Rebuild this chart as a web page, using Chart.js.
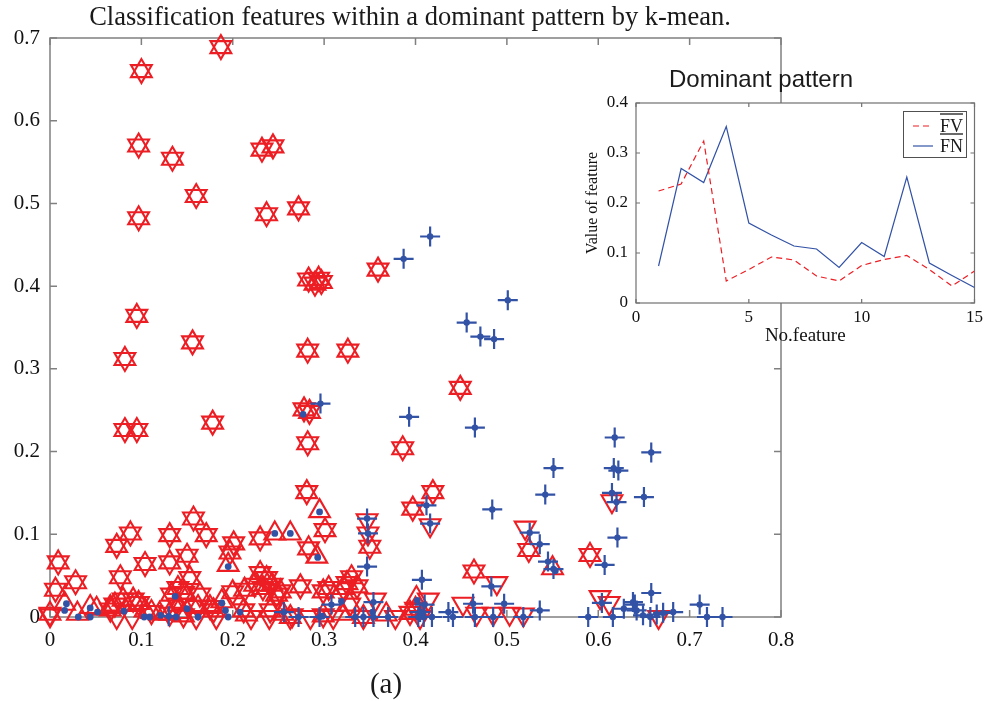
<!DOCTYPE html>
<html><head><meta charset="utf-8">
<script src="https://cdn.jsdelivr.net/npm/chart.js@4.4.1/dist/chart.umd.min.js"></script>
<style>
html,body{margin:0;padding:0;background:#fff;}
#wrap{position:relative;width:987px;height:701px;overflow:hidden;}
#main{position:absolute;left:0;top:0;}
#inset{position:absolute;left:560px;top:55px;}
</style></head><body>
<div id="wrap"><canvas id="main" width="987" height="701"></canvas><canvas id="inset" width="427" height="300"></canvas></div>
<script>
// ---------- Main scatter data (x, y) ----------
const starPoints = [ // red up + down triangle at same place
  [0.100,0.660],[0.187,0.689],[0.097,0.570],[0.134,0.554],[0.160,0.509],[0.097,0.482],[0.232,0.565],[0.244,0.569],
  [0.237,0.487],[0.272,0.494],[0.283,0.408],[0.290,0.403],[0.294,0.409],[0.297,0.405],[0.359,0.420],[0.095,0.364],
  [0.156,0.332],[0.082,0.312],[0.282,0.322],[0.326,0.322],[0.082,0.226],[0.095,0.226],[0.178,0.235],[0.278,0.251],
  [0.284,0.248],[0.282,0.210],[0.281,0.151],[0.449,0.277],[0.386,0.204],[0.419,0.151],[0.397,0.131],
  [0.301,0.105],[0.350,0.085],[0.283,0.083],[0.230,0.095],[0.201,0.089],[0.197,0.078],[0.171,0.099],[0.157,0.119],
  [0.131,0.099],[0.150,0.074],[0.131,0.066],[0.104,0.064],[0.088,0.101],[0.073,0.086],[0.009,0.066],[0.464,0.055],
  [0.524,0.081],[0.591,0.075],
  [0.006,0.033],[0.028,0.042],[0.000,0.004],[0.077,0.048],[0.080,0.021],[0.071,0.015],[0.091,0.021],[0.066,0.009],
  [0.097,0.017],[0.111,0.006],[0.153,0.047],[0.140,0.035],[0.133,0.027],[0.146,0.029],[0.164,0.027],[0.140,0.015],
  [0.131,0.004],[0.146,0.002],[0.162,0.012],[0.175,0.012],[0.179,0.008],[0.213,0.033],[0.224,0.039],[0.230,0.053],
  [0.237,0.047],[0.233,0.035],[0.243,0.039],[0.252,0.031],[0.248,0.027],[0.274,0.037],[0.212,0.008],[0.241,0.008],
  [0.263,0.000],[0.299,0.031],[0.305,0.035],[0.325,0.041],[0.330,0.048],[0.336,0.037],[0.321,0.035],[0.328,0.015],
  [0.299,0.002],[0.343,0.000],[0.394,0.005],[0.400,0.010],[0.200,0.030]
];
const upPoints = [ // red up triangle only
  [0.016,0.016],[0.044,0.012],[0.051,0.010],[0.066,0.012],[0.104,0.008],[0.188,0.019],[0.195,0.063],[0.246,0.101],
  [0.263,0.101],[0.295,0.128],[0.292,0.073],[0.401,0.023],[0.550,0.059],[0.368,0.003],[0.215,0.003],[0.255,0.004],
  [0.140,0.006],[0.030,0.004],[0.120,0.004],[0.320,0.004]
];
const downPoints = [ // red down triangle only
  [0.000,0.002],[0.073,0.000],[0.090,0.000],[0.182,0.000],[0.220,0.000],[0.265,0.002],[0.310,0.000],[0.347,0.117],
  [0.348,0.101],[0.356,0.021],[0.416,0.111],[0.414,0.021],[0.452,0.016],[0.467,0.004],[0.485,0.004],[0.503,0.004],
  [0.518,0.003],[0.489,0.041],[0.520,0.108],[0.602,0.024],[0.612,0.017],[0.615,0.140],[0.666,0.000],[0.378,0.000],
  [0.405,0.000],[0.160,0.000],[0.240,0.000],[0.285,0.000]
];
const plusPoints = [ // blue plus with centre dot
  [0.416,0.460],[0.387,0.433],[0.501,0.383],[0.456,0.356],[0.471,0.339],[0.486,0.336],[0.296,0.258],[0.393,0.242],
  [0.465,0.229],[0.618,0.217],[0.658,0.199],[0.551,0.180],[0.617,0.180],[0.622,0.177],[0.542,0.148],[0.615,0.150],
  [0.650,0.145],[0.620,0.139],[0.412,0.135],[0.484,0.130],[0.621,0.096],[0.347,0.119],[0.348,0.101],[0.525,0.102],
  [0.536,0.088],[0.545,0.067],[0.551,0.058],[0.607,0.063],[0.347,0.061],[0.407,0.045],[0.483,0.037],[0.658,0.029],
  [0.416,0.113],
  [0.130,0.001],[0.256,0.006],[0.272,0.000],[0.295,0.000],[0.308,0.015],[0.334,0.000],[0.343,0.000],[0.354,0.018],
  [0.354,0.000],[0.370,0.000],[0.403,0.000],[0.409,0.000],[0.405,0.006],[0.410,0.015],[0.418,0.000],[0.436,0.006],
  [0.441,0.000],[0.463,0.016],[0.465,0.000],[0.497,0.016],[0.518,0.000],[0.536,0.008],[0.589,0.000],[0.604,0.017],
  [0.616,0.000],[0.628,0.010],[0.638,0.018],[0.640,0.015],[0.642,0.008],[0.649,0.002],[0.657,0.000],[0.664,0.003],
  [0.671,0.005],[0.682,0.006],[0.711,0.015],[0.719,0.000],[0.736,0.000],[0.485,0.000]
];
const dotPoints = [ // blue dot only
  [0.018,0.016],[0.016,0.008],[0.031,0.000],[0.044,0.011],[0.044,0.000],[0.052,0.006],[0.081,0.007],[0.103,0.000],
  [0.109,0.000],[0.121,0.002],[0.137,0.025],[0.138,0.000],[0.150,0.010],[0.162,0.000],[0.188,0.017],[0.192,0.008],
  [0.195,0.000],[0.208,0.006],[0.195,0.061],[0.246,0.101],[0.263,0.101],[0.277,0.245],[0.295,0.127],[0.293,0.072],
  [0.319,0.019],[0.298,0.001],[0.353,0.006],[0.402,0.020],[0.553,0.056]
];
const mainXTicks = [0,0.1,0.2,0.3,0.4,0.5,0.6,0.7,0.8];
const mainYTicks = [0,0.1,0.2,0.3,0.4,0.5,0.6,0.7];

// ---------- Inset data ----------
const featureNo = [1,2,3,4,5,6,7,8,9,10,11,12,13,14,15];
const fvValues = [0.224,0.238,0.324,0.044,0.067,0.092,0.086,0.054,0.044,0.075,0.087,0.095,0.067,0.034,0.064];
const fnValues = [0.074,0.269,0.241,0.353,0.160,0.136,0.114,0.108,0.071,0.121,0.093,0.252,0.080,0.055,0.031];
const insetXTicks = [0,5,10,15];
const insetYTicks = [0,0.1,0.2,0.3,0.4];

const mainTitle = 'Classification features within a dominant pattern by k-mean.';
const subLabel = '(a)';
const insetTitle = 'Dominant pattern';
const legendNames = ['FV','FN'];

// ---------- styles ----------
const RED = 'rgb(236,30,36)';
const BLUE = 'rgb(50,82,166)';
const SERIF = '"Liberation Serif","Times New Roman",serif';
const SANS = '"Liberation Sans",Arial,sans-serif';
const toXY = a => a.map(p => ({x: p[0], y: p[1]}));

function boxTicks(chart, color, width, tickLen, xt, yt) {
  const {ctx, chartArea: a, scales: {x, y}} = chart;
  ctx.save();
  ctx.strokeStyle = color; ctx.lineWidth = width;
  ctx.strokeRect(a.left, a.top, a.right - a.left, a.bottom - a.top);
  ctx.beginPath();
  xt.forEach(v => { const p = x.getPixelForValue(v);
    ctx.moveTo(p, a.bottom); ctx.lineTo(p, a.bottom - tickLen);
    ctx.moveTo(p, a.top); ctx.lineTo(p, a.top + tickLen); });
  yt.forEach(v => { const p = y.getPixelForValue(v);
    ctx.moveTo(a.left, p); ctx.lineTo(a.left + tickLen, p);
    ctx.moveTo(a.right, p); ctx.lineTo(a.right - tickLen, p); });
  ctx.stroke();
  ctx.restore();
}

const mainPlugin = {
  id: 'mainDeco',
  beforeDatasetsDraw(chart) { boxTicks(chart, '#808080', 1.5, 7, mainXTicks, mainYTicks); },
  afterDraw(chart) {
    const ctx = chart.ctx;
    ctx.save();
    ctx.fillStyle = '#1a1a1a';
    ctx.textAlign = 'center'; ctx.textBaseline = 'middle';
    ctx.font = '26.5px ' + SERIF;
    ctx.fillText(mainTitle, 410, 18);
    ctx.font = '29px ' + SERIF;
    ctx.fillText(subLabel, 386, 685);
    ctx.restore();
  }
};

const tickFont = {family: SERIF, size: 21};
const redBase = {pointBackgroundColor: 'rgba(0,0,0,0)', pointBorderColor: RED, pointBorderWidth: 2.1, pointRadius: 12, pointHoverRadius: 12, clip: false, order: 1};

new Chart(document.getElementById('main'), {
  type: 'scatter',
  data: {
    datasets: [
      {label: 'plus', data: toXY(plusPoints), pointStyle: 'cross', pointRadius: 10, pointHoverRadius: 10, pointBorderColor: BLUE, pointBorderWidth: 2.2, clip: false, order: 0},
      {label: 'plusDot', data: toXY(plusPoints), pointStyle: 'circle', pointRadius: 3.2, pointHoverRadius: 3.2, pointBackgroundColor: BLUE, pointBorderWidth: 0, clip: false, order: 0},
      {label: 'dot', data: toXY(dotPoints), pointStyle: 'circle', pointRadius: 3.4, pointHoverRadius: 3.4, pointBackgroundColor: BLUE, pointBorderWidth: 0, clip: false, order: 0},
      Object.assign({label: 'starUp', data: toXY(starPoints), pointStyle: 'triangle', pointRotation: 0}, redBase),
      Object.assign({label: 'starDown', data: toXY(starPoints), pointStyle: 'triangle', pointRotation: 180}, redBase),
      Object.assign({label: 'up', data: toXY(upPoints), pointStyle: 'triangle', pointRotation: 0}, redBase),
      Object.assign({label: 'down', data: toXY(downPoints), pointStyle: 'triangle', pointRotation: 180}, redBase)
    ]
  },
  options: {
    responsive: false, animation: false, devicePixelRatio: 1,
    layout: {padding: {top: 38, right: 206, bottom: 44, left: 0}},
    plugins: {legend: {display: false}, tooltip: {enabled: false}, title: {display: false}},
    events: [],
    scales: {
      x: {type: 'linear', min: 0, max: 0.8,
          afterBuildTicks: s => { s.ticks = mainXTicks.map(v => ({value: v})); },
          ticks: {font: tickFont, color: '#111', padding: 11, maxRotation: 0},
          grid: {display: false, drawTicks: false}, border: {display: false},
          afterFit: s => { s.height = 40; }},
      y: {type: 'linear', min: 0, max: 0.7,
          afterBuildTicks: s => { s.ticks = mainYTicks.map(v => ({value: v})); },
          ticks: {font: tickFont, color: '#111', padding: 10},
          grid: {display: false, drawTicks: false}, border: {display: false},
          afterFit: s => { s.width = 50; }}
    }
  },
  plugins: [mainPlugin]
});

// ---------- Inset ----------
const insetPlugin = {
  id: 'insetDeco',
  beforeDraw(chart) {
    const {ctx, chartArea: a} = chart;
    ctx.save(); ctx.fillStyle = '#fff';
    ctx.fillRect(a.left, a.top, a.right - a.left, a.bottom - a.top);
    ctx.restore();
  },
  beforeDatasetsDraw(chart) { boxTicks(chart, '#707070', 1.2, 4, insetXTicks, insetYTicks); },
  afterDraw(chart) {
    const ctx = chart.ctx;
    ctx.save();
    ctx.fillStyle = '#1a1a1a'; ctx.textAlign = 'center'; ctx.textBaseline = 'middle';
    ctx.font = '24px ' + SANS;
    ctx.fillText(insetTitle, 201, 25);
    // legend
    const bx = 343, by = 56, bw = 63, bh = 46;
    ctx.fillStyle = '#fff'; ctx.fillRect(bx, by, bw, bh);
    ctx.strokeStyle = '#505050'; ctx.lineWidth = 1; ctx.strokeRect(bx + 0.5, by + 0.5, bw, bh);
    const rows = [{c: RED, dash: [6, 4], y: 71}, {c: BLUE, dash: [], y: 91}];
    rows.forEach((r, i) => {
      ctx.strokeStyle = r.c; ctx.lineWidth = 1.2; ctx.setLineDash(r.dash);
      ctx.beginPath(); ctx.moveTo(353, r.y); ctx.lineTo(373, r.y); ctx.stroke();
      ctx.setLineDash([]);
      ctx.font = '18px ' + SERIF; ctx.fillStyle = '#1a1a1a'; ctx.textAlign = 'left';
      ctx.fillText(legendNames[i], 380, r.y + 1);
      const w = ctx.measureText(legendNames[i]).width;
      ctx.strokeStyle = '#1a1a1a'; ctx.lineWidth = 1.3;
      ctx.beginPath(); ctx.moveTo(380, r.y - 12); ctx.lineTo(380 + w, r.y - 12); ctx.stroke();
    });
    ctx.restore();
  }
};
const insetFont = {family: SERIF, size: 17};
new Chart(document.getElementById('inset'), {
  type: 'line',
  data: {
    datasets: [
      {label: 'FV', data: featureNo.map((f, i) => ({x: f, y: fvValues[i]})), borderColor: RED, borderWidth: 1.2, borderDash: [6, 4], pointRadius: 0, tension: 0, fill: false},
      {label: 'FN', data: featureNo.map((f, i) => ({x: f, y: fnValues[i]})), borderColor: BLUE, borderWidth: 1.2, pointRadius: 0, tension: 0, fill: false}
    ]
  },
  options: {
    responsive: false, animation: false, devicePixelRatio: 1,
    layout: {padding: {top: 48, right: 11, bottom: 0, left: 0}},
    plugins: {legend: {display: false}, tooltip: {enabled: false}},
    events: [],
    scales: {
      x: {type: 'linear', min: 0, max: 15,
          afterBuildTicks: s => { s.ticks = insetXTicks.map(v => ({value: v})); },
          ticks: {font: insetFont, color: '#111', padding: 4, maxRotation: 0},
          grid: {display: false, drawTicks: false}, border: {display: false},
          title: {display: true, text: 'No.feature', font: {family: SERIF, size: 19}, color: '#111', padding: {top: 0, bottom: 8}},
          afterFit: s => { s.height = 52; }},
      y: {type: 'linear', min: 0, max: 0.4,
          afterBuildTicks: s => { s.ticks = insetYTicks.map(v => ({value: v})); },
          ticks: {font: insetFont, color: '#111', padding: 8},
          grid: {display: false, drawTicks: false}, border: {display: false},
          title: {display: true, text: 'Value of feature', font: {family: SERIF, size: 16}, color: '#111', padding: {top: 23, bottom: 0}},
          afterFit: s => { s.width = 76; }}
    }
  },
  plugins: [insetPlugin]
});
</script>
</body></html>
